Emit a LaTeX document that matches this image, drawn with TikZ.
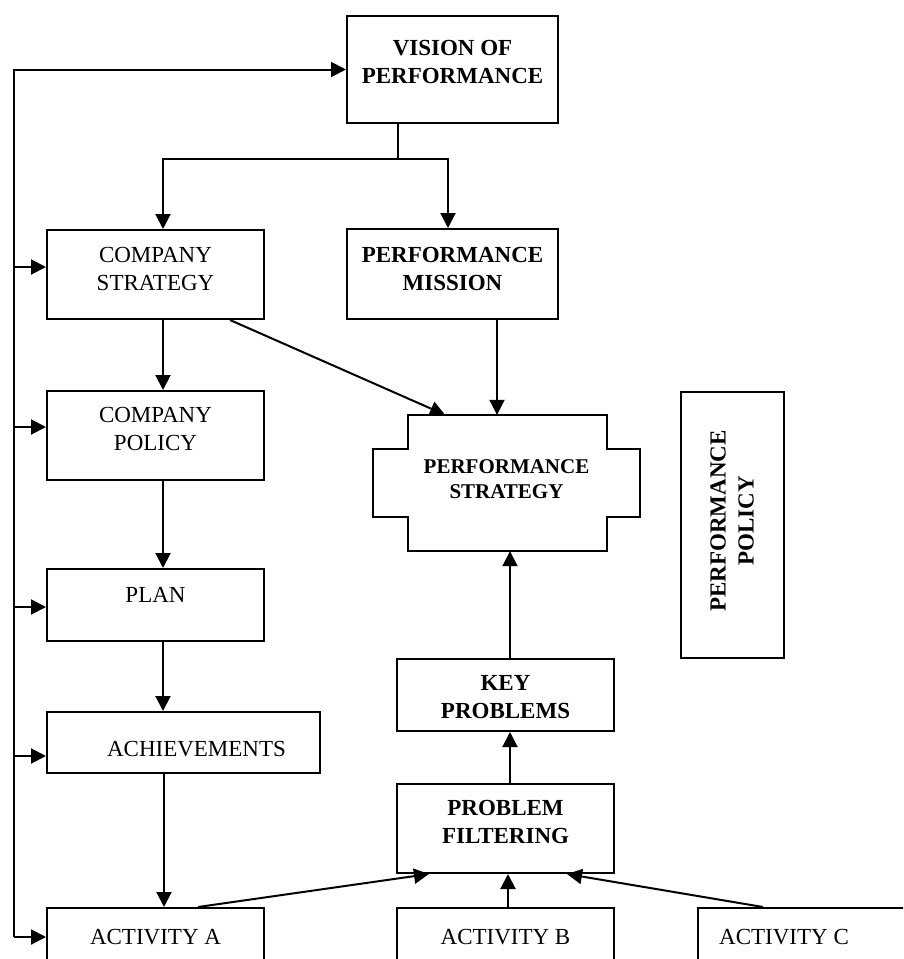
\documentclass[tikz,border=0pt]{standalone}
\usepackage{fontspec}
\setmainfont{Liberation Serif}
\usetikzlibrary{arrows.meta}
\begin{document}
\begin{tikzpicture}[x=1pt,y=-1pt,
 box/.style={draw, line width=2pt, inner sep=0pt, rectangle},
 lbl/.style={inner sep=0pt, align=center, font=\fontsize{23}{28}\selectfont},
 blbl/.style={inner sep=0pt, align=center, font=\fontsize{23}{28}\selectfont\bfseries},
 slbl/.style={inner sep=0pt, align=center, font=\fontsize{21}{25}\selectfont\bfseries},
 arr/.style={line width=2pt, -{Triangle[length=15pt,width=15pt]}},
 ln/.style={line width=2pt}]
\clip (0,0) rectangle (903,959);
\useasboundingbox (0,0) rectangle (903,959);
\fill[white] (0,0) rectangle (903,959);
% boxes
\node[box, minimum width=211pt, minimum height=107pt] (vis) at (452.5,69.5) {};
\node[box, minimum width=217pt, minimum height=89pt] (cs) at (155.5,274.5) {};
\node[box, minimum width=211pt, minimum height=90pt] (pm) at (452.5,274) {};
\node[box, minimum width=217pt, minimum height=89pt] (cp) at (155.5,435.5) {};
\node[box, minimum width=217pt, minimum height=72pt] (plan) at (155.5,605) {};
\node[box, minimum width=273pt, minimum height=61pt] (ach) at (183.5,742.5) {};
\node[box, minimum width=217pt, minimum height=62pt] (actA) at (155.5,939) {};
\node[box, minimum width=217pt, minimum height=62pt] (actB) at (505.5,939) {};
\node[box, minimum width=212pt, minimum height=62pt] (actC) at (804,939) {};
\node[box, minimum width=217pt, minimum height=89pt] (pf) at (505.5,828.5) {};
\node[box, minimum width=217pt, minimum height=72pt] (kp) at (505.5,695) {};
\node[box, minimum width=103pt, minimum height=266pt] (pp) at (732.5,525) {};
% performance strategy shape
\draw[ln] (408,415) -- (607,415) -- (607,449) -- (640,449) -- (640,517) -- (607,517)
  -- (607,551) -- (408,551) -- (408,517) -- (373,517) -- (373,449) -- (408,449) -- cycle;
\node[inner sep=0pt, minimum width=199pt, minimum height=136pt] (ps) at (507.5,483) {};
% texts
\node[blbl] (tvis) at (452.5,61.5) {VISION OF\\PERFORMANCE};
\node[lbl] (tcs) at (155.5,269) {COMPANY\\STRATEGY};
\node[blbl] (tpm) at (452.5,269) {PERFORMANCE\\MISSION};
\node[lbl] (tcp) at (155.5,429) {COMPANY\\POLICY};
\node[lbl] (tplan) at (155.5,595) {PLAN};
\node[lbl] (tach) at (196.5,749) {ACHIEVEMENTS};
\node[slbl] (tps) at (506.5,479.5) {PERFORMANCE\\STRATEGY};
\node[blbl, rotate=90] (tpp) at (732,521) {PERFORMANCE\\POLICY};
\node[blbl] (tkp) at (505.5,697.5) {KEY\\PROBLEMS};
\node[blbl] (tpf) at (505.5,822) {PROBLEM\\FILTERING};
\node[lbl] (tA) at (155.5,937) {ACTIVITY A};
\node[lbl] (tB) at (505.5,937) {ACTIVITY B};
\node[lbl] (tC) at (784,937) {ACTIVITY C};
% connectors
\coordinate (split) at (398,159);
\draw[ln] (split |- vis.south) -- (split);
\draw[arr] (split) -| (163,0 |- cs.north);
\draw[arr] (split) -| (448,0 |- pm.north);
\draw[arr] (163,0 |- cs.south) -- (163,0 |- cp.north);
\draw[arr] (163,0 |- cp.south) -- (163,0 |- plan.north);
\draw[arr] (163,0 |- plan.south) -- (163,0 |- ach.north);
\draw[arr] (164,0 |- ach.south) -- (164,0 |- actA.north);
\draw[arr] (230,0 |- cs.south) -- (445,0 |- ps.north);
\draw[arr] (497,0 |- pm.south) -- (497,0 |- ps.north);
\draw[arr] (510,0 |- kp.north) -- (510,0 |- ps.south);
\draw[arr] (510,0 |- pf.north) -- (510,0 |- kp.south);
\draw[arr] (198,0 |- actA.north) -- (429,0 |- pf.south);
\draw[arr] (508,0 |- actB.north) -- (508,0 |- pf.south);
\draw[arr] (763,0 |- actC.north) -- (567,0 |- pf.south);
% feedback loop
\draw[arr] (14,937) -- (14,0 |- vis.west) -- (vis.west);
\draw[arr] (14,267) -- (cs.west |- 14,267);
\draw[arr] (14,427) -- (cp.west |- 14,427);
\draw[arr] (14,607) -- (plan.west |- 14,607);
\draw[arr] (14,756) -- (ach.west |- 14,756);
\draw[arr] (14,937) -- (actA.west |- 14,937);
\end{tikzpicture}
\end{document}
